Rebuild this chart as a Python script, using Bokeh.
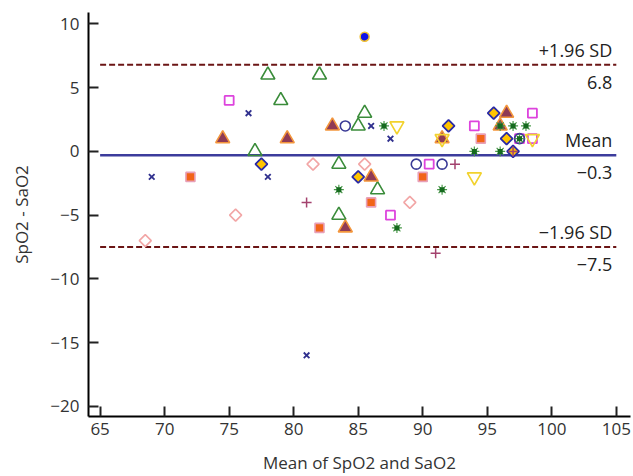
import math
from bokeh.plotting import figure
from bokeh.models import Range1d, FixedTicker
from bokeh.core.properties import value
from bokeh.embed import file_html
from bokeh.resources import INLINE

# ---- data ----
tri_green_x = [78, 82, 79, 85.5, 85, 77, 83.5, 86.5, 83.5]
tri_green_y = [6, 6, 4, 3, 2, 0, -1, -3, -5]

sq_mag_x = [75, 98.5, 94, 90.5, 87.5, 98.5, 97.5]
sq_mag_y = [4, 3, 2, -1, -5, 1, 1]

x_navy_x = [76.5, 69, 86, 87.5, 78, 81]
x_navy_y = [3, -2, 2, 1, -2, -16]

tri_brown_x = [74.5, 79.5, 83, 91.5, 86, 84, 96.5, 96]
tri_brown_y = [1, 1, 2, 1, -2, -6, 3, 2]

circ_navy_x = [84, 89.5, 91.5, 97.5]
circ_navy_y = [2, -1, -1, 1]

ast_green_x = [87, 83.5, 91.5, 88, 94, 96, 96, 97, 98, 97.5]
ast_green_y = [2, -3, -3, -6, 0, 0, 2, 2, 2, 1]

inv_yel_x = [88, 91.5, 94, 98.5]
inv_yel_y = [2, 1, -2, 1]

dia_yel_x = [77.5, 85, 92, 95.5, 96.5, 97]
dia_yel_y = [-1, -2, 2, 3, 1, 0]

dia_pink_x = [68.5, 75.5, 81.5, 85.5, 89]
dia_pink_y = [-7, -5, -1, -1, -4]

sq_orange_x = [72, 82, 86, 90, 94.5]
sq_orange_y = [-2, -6, -4, -2, 1]

plus_x = [81, 91, 92.5, 97]
plus_y = [-4, -8, -1, 0]

dot_blue_x = [85.5]
dot_blue_y = [9]

mean_diff = -0.3
upper_loa = 6.8
lower_loa = -7.5
line_x = [65, 105]

x_ticks = [65, 70, 75, 80, 85, 90, 95, 100, 105]
y_ticks = [-20, -15, -10, -5, 0, 5, 10]

FONT = "Open Sans"
Y0, Y1 = -20.8, 10.9

p = figure(width=633, height=476, output_backend="svg", toolbar_location=None,
           x_range=Range1d(64.1, 106.1), y_range=Range1d(Y0, Y1),
           min_border_left=88, min_border_right=3, min_border_top=12, min_border_bottom=59)
p.outline_line_color = None
p.xgrid.visible = False
p.ygrid.visible = False
p.background_fill_color = "white"

for ax in (p.xaxis[0], p.yaxis[0]):
    ax.axis_line_width = 2
    ax.axis_line_color = "black"
    ax.major_tick_line_width = 2
    ax.major_tick_line_color = "#222222"
    ax.major_tick_in = 10
    ax.major_tick_out = 0
    ax.minor_tick_line_color = None
    ax.major_label_text_font = FONT
    ax.major_label_text_font_size = "17px"
    ax.major_label_text_color = "#333333"
    ax.axis_label_text_font = FONT
    ax.axis_label_text_font_size = "17px"
    ax.axis_label_text_font_style = "normal"
    ax.axis_label_text_color = "#333333"

p.xaxis.ticker = FixedTicker(ticks=x_ticks)
p.yaxis.ticker = FixedTicker(ticks=y_ticks)
p.yaxis.major_label_overrides = {t: (str(t).replace("-", "\u2212")) for t in y_ticks}
p.xaxis.axis_label = "Mean of SpO2 and SaO2"
p.yaxis.axis_label = "SpO2 - SaO2"
p.xaxis.major_label_standoff = 6
p.xaxis.axis_label_standoff = 13
p.yaxis.major_label_standoff = 9
p.yaxis.axis_label_standoff = 14

# reference lines
p.line(line_x, [upper_loa, upper_loa], line_color="#6b1515", line_width=2, line_dash="6 3")
p.line(line_x, [lower_loa, lower_loa], line_color="#6b1515", line_width=2, line_dash="6 3")
p.line(line_x, [mean_diff, mean_diff], line_color="#3c3c9c", line_width=2.5)

# markers
p.scatter(tri_green_x, tri_green_y, marker="triangle", size=14, fill_color=None,
          line_color="#3a8c3a", line_width=1.6)
p.scatter(dia_pink_x, dia_pink_y, marker="square", angle=math.pi / 4, size=8.5,
          fill_color=None, line_color="#f2a6a6", line_width=1.6)
p.scatter(sq_orange_x, sq_orange_y, marker="square", size=9, fill_color="#f26418",
          line_color="#e8a0b8", line_width=1.6)
p.scatter(tri_brown_x, tri_brown_y, marker="triangle", size=14, fill_color="#8f3a55",
          line_color="#f3963c", line_width=1.6)
p.scatter(sq_mag_x, sq_mag_y, marker="square", size=9, fill_color=None,
          line_color="#dd44dd", line_width=1.8)
p.scatter(circ_navy_x, circ_navy_y, marker="circle", size=10, fill_color=None,
          line_color="#3a3a96", line_width=1.6)
p.scatter(inv_yel_x, inv_yel_y, marker="inverted_triangle", size=14, fill_color=None,
          line_color="#f2d22e", line_width=1.6)
p.scatter(dia_yel_x, dia_yel_y, marker="square", angle=math.pi / 4, size=8.5,
          fill_color="#ffc400", line_color="#2a2aa6", line_width=1.8)
p.scatter(ast_green_x, ast_green_y, marker="asterisk", size=10, line_color="#4a9a4a",
          line_width=1.2)
p.scatter(ast_green_x, ast_green_y, marker="square", size=5, fill_color="#156a1e",
          line_color=None)
p.scatter(x_navy_x, x_navy_y, marker="x", size=8, line_color="#30308e", line_width=1.8)
p.scatter(plus_x, plus_y, marker="cross", size=10, line_color="#a3426e", line_width=1.5)
p.scatter(dot_blue_x, dot_blue_y, marker="circle", size=9, fill_color="#1212e6",
          line_color="#f0c030", line_width=1.5)

# line annotations
px_per_unit = (476 - 12 - 59) / (Y1 - Y0)
above = 15 / px_per_unit
below = 17.5 / px_per_unit
labels_txt = ["+1.96 SD", f"{upper_loa}", "Mean", f"{mean_diff}".replace("-", "\u2212"),
              "\u22121.96 SD", f"{lower_loa}".replace("-", "\u2212")]
labels_y = [upper_loa + above, upper_loa - below, mean_diff + above, mean_diff - below,
            lower_loa + above, lower_loa - below]
p.text(x=[line_x[1]] * 6, y=labels_y, text=labels_txt, text_align="right",
       text_baseline="middle", text_font=value(FONT), text_font_size="18px",
       text_color="#222222", x_offset=-4)

open("out.html", "w").write(file_html(p, INLINE))
